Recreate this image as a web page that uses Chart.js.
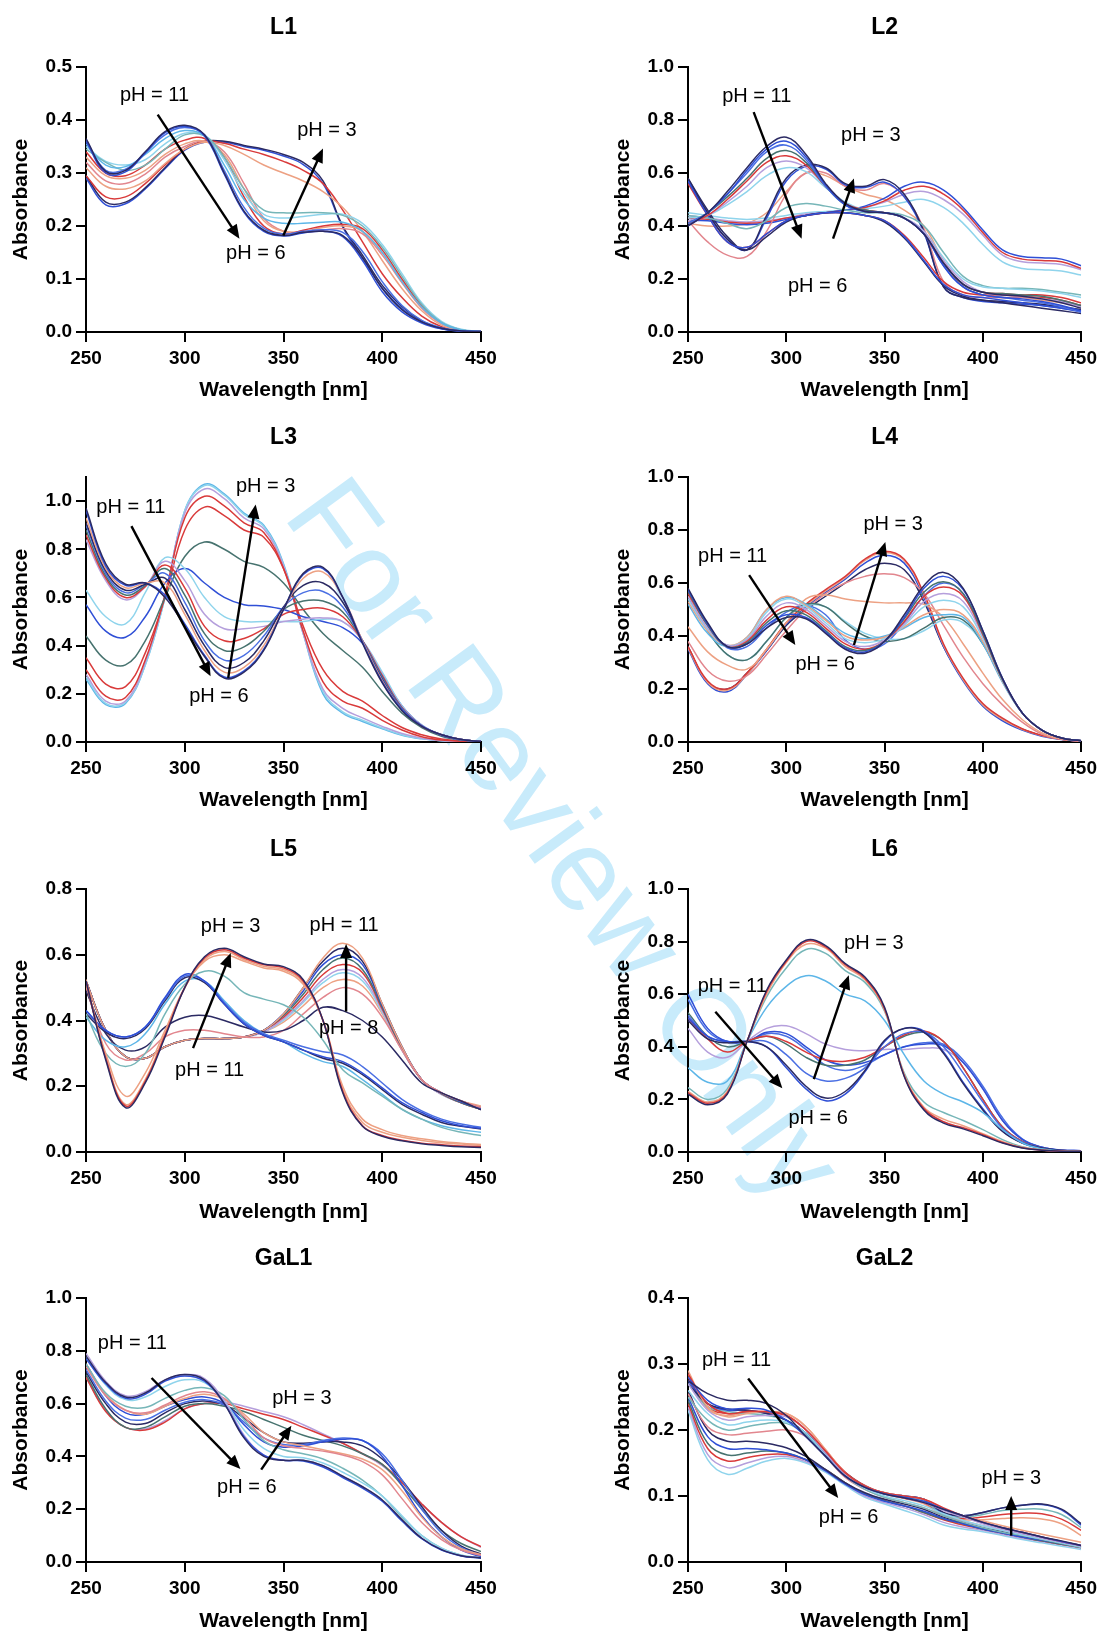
<!DOCTYPE html>
<html>
<head>
<meta charset="utf-8">
<title>UV-Vis spectra at different pH</title>
<script src="https://cdn.jsdelivr.net/npm/chart.js@4.4.1/dist/chart.umd.min.js"></script>
<style>
  html, body { margin: 0; padding: 0; background: #fff; }
  body { position: relative; width: 1102px; height: 1635px; overflow: hidden; }
  canvas { position: absolute; z-index: 1; }
  #watermark {
    position: absolute; left: 361px; top: 458px; z-index: 0;
    transform-origin: 0 0; transform: rotate(54deg);
    font: 116px/116px "Liberation Sans", Arial, sans-serif;
    color: #c8ebfb; white-space: nowrap;
  }
</style>
</head>
<body>
<div id="watermark">For Review Only</div>
<canvas id="c0" width="551" height="410" style="left:0;top:0"></canvas>
<canvas id="c1" width="500" height="410" style="left:602px;top:0"></canvas>
<canvas id="c2" width="551" height="410" style="left:0;top:410px"></canvas>
<canvas id="c3" width="500" height="410" style="left:602px;top:410px"></canvas>
<canvas id="c4" width="551" height="410" style="left:0;top:822px"></canvas>
<canvas id="c5" width="500" height="410" style="left:602px;top:822px"></canvas>
<canvas id="c6" width="551" height="410" style="left:0;top:1231px"></canvas>
<canvas id="c7" width="500" height="410" style="left:602px;top:1231px"></canvas>
<script>
// wavelength grid (nm) shared by every spectrum
const wavelengths = [250,260,270,280,290,300,310,320,330,340,350,360,370,380,390,400,410,420,430,440,450];
const xTicks = [250,300,350,400,450];

const NAVY = '#2b2a63', BLUE = '#2f4fd6', ROYAL = '#4a6fe3', LBLUE = '#5db6e8', CYAN = '#8fd4ec',
      TEAL = '#76b6b8', DTEAL = '#47736f', RED = '#d93a3a', SALMON = '#eda183', PINK = '#e2868e', LAV = '#b59fdc';

// ---- L1 ----
const L1 = [
  [0.365,0.303,0.305,0.340,0.378,0.390,0.372,0.300,0.228,0.192,0.182,0.188,0.190,0.182,0.140,0.082,0.042,0.019,0.007,0.002,0.001],
  [0.360,0.300,0.302,0.338,0.376,0.388,0.370,0.298,0.226,0.190,0.181,0.187,0.190,0.180,0.135,0.076,0.038,0.017,0.006,0.002,0.001],
  [0.362,0.305,0.307,0.338,0.372,0.386,0.372,0.305,0.235,0.196,0.185,0.190,0.193,0.188,0.152,0.095,0.050,0.022,0.008,0.002,0.001],
  [0.355,0.315,0.312,0.335,0.365,0.380,0.370,0.315,0.250,0.215,0.205,0.205,0.207,0.207,0.190,0.150,0.095,0.047,0.017,0.004,0.001],
  [0.345,0.320,0.305,0.315,0.345,0.372,0.370,0.330,0.270,0.230,0.225,0.225,0.225,0.220,0.200,0.160,0.105,0.052,0.018,0.004,0.001],
  [0.350,0.322,0.315,0.325,0.355,0.375,0.372,0.325,0.262,0.222,0.215,0.218,0.222,0.222,0.205,0.165,0.110,0.055,0.020,0.005,0.001],
  [0.340,0.300,0.295,0.315,0.345,0.362,0.365,0.330,0.255,0.200,0.185,0.192,0.200,0.203,0.195,0.155,0.100,0.050,0.018,0.004,0.001],
  [0.330,0.295,0.290,0.305,0.335,0.355,0.360,0.335,0.270,0.210,0.190,0.190,0.197,0.200,0.190,0.150,0.097,0.048,0.017,0.004,0.001],
  [0.320,0.285,0.280,0.298,0.330,0.350,0.360,0.340,0.280,0.215,0.190,0.188,0.192,0.195,0.185,0.145,0.093,0.045,0.016,0.004,0.001],
  [0.310,0.275,0.270,0.285,0.318,0.345,0.358,0.352,0.335,0.315,0.300,0.285,0.265,0.235,0.190,0.135,0.082,0.040,0.013,0.003,0.001],
  [0.295,0.255,0.255,0.280,0.315,0.345,0.360,0.356,0.345,0.335,0.322,0.305,0.280,0.230,0.170,0.110,0.065,0.030,0.010,0.002,0.001],
  [0.295,0.245,0.245,0.272,0.310,0.345,0.360,0.360,0.352,0.345,0.335,0.320,0.285,0.200,0.145,0.088,0.048,0.021,0.007,0.002,0.001],
  [0.290,0.240,0.242,0.270,0.308,0.343,0.358,0.358,0.350,0.343,0.332,0.316,0.280,0.198,0.140,0.083,0.044,0.019,0.006,0.002,0.001]
];
const L1_colors = [NAVY, BLUE, ROYAL, LBLUE, TEAL, CYAN, RED, SALMON, PINK, SALMON, RED, NAVY, BLUE];
const L1_yTicks = [0, 0.1, 0.2, 0.3, 0.4, 0.5];
const L1_labels = [['pH = 11', 284.7, 0.447], ['pH = 3', 372, 0.38], ['pH = 6', 336, 0.148]];
const L1_arrows = [[286.3, 0.41, 327.7, 0.176], [349.9, 0.182, 370, 0.346]];

// ---- L2 ----
const L2 = [
  [0.40,0.45,0.53,0.62,0.70,0.735,0.67,0.56,0.485,0.455,0.45,0.43,0.37,0.26,0.18,0.15,0.14,0.135,0.125,0.11,0.09],
  [0.40,0.45,0.52,0.61,0.69,0.72,0.66,0.555,0.48,0.455,0.45,0.43,0.37,0.25,0.17,0.14,0.13,0.125,0.115,0.10,0.08],
  [0.41,0.45,0.52,0.60,0.68,0.705,0.65,0.55,0.48,0.455,0.45,0.43,0.37,0.25,0.17,0.14,0.13,0.12,0.11,0.095,0.075],
  [0.41,0.45,0.51,0.58,0.655,0.685,0.64,0.55,0.48,0.46,0.45,0.43,0.37,0.26,0.18,0.15,0.145,0.14,0.135,0.12,0.10],
  [0.41,0.44,0.50,0.57,0.64,0.665,0.63,0.55,0.485,0.46,0.45,0.43,0.37,0.26,0.18,0.15,0.145,0.14,0.14,0.13,0.11],
  [0.42,0.44,0.49,0.55,0.62,0.645,0.62,0.55,0.485,0.46,0.45,0.43,0.38,0.27,0.19,0.15,0.14,0.135,0.125,0.115,0.095],
  [0.43,0.44,0.48,0.53,0.59,0.62,0.605,0.545,0.49,0.46,0.45,0.43,0.38,0.28,0.20,0.17,0.165,0.16,0.155,0.145,0.13],
  [0.44,0.43,0.41,0.39,0.42,0.47,0.485,0.475,0.46,0.45,0.45,0.44,0.40,0.30,0.21,0.175,0.165,0.165,0.16,0.15,0.14],
  [0.57,0.44,0.34,0.32,0.37,0.42,0.44,0.45,0.45,0.44,0.42,0.36,0.27,0.18,0.14,0.13,0.12,0.11,0.10,0.09,0.075],
  [0.58,0.45,0.35,0.31,0.36,0.415,0.44,0.45,0.45,0.44,0.415,0.355,0.265,0.175,0.135,0.12,0.11,0.10,0.09,0.08,0.07],
  [0.56,0.44,0.34,0.32,0.37,0.42,0.44,0.45,0.45,0.44,0.42,0.365,0.28,0.19,0.15,0.14,0.14,0.135,0.13,0.12,0.10],
  [0.58,0.46,0.36,0.31,0.44,0.58,0.63,0.62,0.56,0.55,0.575,0.52,0.38,0.17,0.13,0.12,0.115,0.11,0.105,0.095,0.085],
  [0.57,0.45,0.35,0.31,0.43,0.57,0.625,0.615,0.555,0.545,0.565,0.51,0.375,0.17,0.13,0.115,0.11,0.105,0.10,0.09,0.08],
  [0.42,0.34,0.29,0.285,0.38,0.52,0.60,0.60,0.55,0.535,0.56,0.51,0.39,0.19,0.14,0.13,0.13,0.13,0.125,0.115,0.10],
  [0.42,0.42,0.41,0.405,0.41,0.425,0.44,0.45,0.46,0.475,0.505,0.55,0.565,0.535,0.47,0.385,0.31,0.285,0.28,0.275,0.25],
  [0.43,0.425,0.415,0.41,0.415,0.43,0.44,0.45,0.46,0.47,0.495,0.535,0.55,0.52,0.46,0.375,0.30,0.275,0.27,0.265,0.24],
  [0.44,0.43,0.42,0.415,0.42,0.43,0.445,0.45,0.46,0.47,0.49,0.52,0.53,0.50,0.445,0.365,0.29,0.265,0.26,0.255,0.235],
  [0.45,0.44,0.43,0.425,0.43,0.44,0.45,0.455,0.46,0.465,0.475,0.49,0.50,0.47,0.41,0.33,0.265,0.24,0.235,0.23,0.215],
  [0.41,0.40,0.40,0.41,0.45,0.53,0.60,0.59,0.55,0.52,0.50,0.46,0.40,0.27,0.17,0.14,0.13,0.13,0.12,0.11,0.10]
];
const L2_colors = [NAVY, BLUE, ROYAL, DTEAL, RED, LAV, CYAN, TEAL, BLUE, NAVY, RED, NAVY, BLUE, PINK, BLUE, RED, LAV, CYAN, SALMON];
const L2_yTicks = [0, 0.2, 0.4, 0.6, 0.8, 1.0];
const L2_labels = [['pH = 11', 285, 0.887], ['pH = 3', 343, 0.742], ['pH = 6', 316, 0.172]];
const L2_arrows = [[283.4, 0.83, 307.8, 0.352], [323.8, 0.352, 334.4, 0.579]];

// ---- L3 ----
const L3 = [
  [0.97,0.74,0.655,0.66,0.60,0.48,0.355,0.265,0.29,0.38,0.55,0.70,0.725,0.60,0.41,0.245,0.13,0.065,0.03,0.01,0.002],
  [0.96,0.73,0.65,0.66,0.61,0.49,0.36,0.27,0.295,0.385,0.55,0.695,0.72,0.60,0.415,0.25,0.135,0.067,0.03,0.01,0.002],
  [0.93,0.72,0.64,0.66,0.66,0.53,0.38,0.29,0.31,0.40,0.55,0.68,0.705,0.60,0.42,0.255,0.135,0.066,0.03,0.01,0.002],
  [0.91,0.71,0.63,0.655,0.68,0.55,0.40,0.31,0.33,0.42,0.56,0.65,0.66,0.58,0.42,0.26,0.135,0.066,0.03,0.01,0.002],
  [0.90,0.70,0.62,0.655,0.70,0.58,0.42,0.34,0.36,0.44,0.56,0.62,0.625,0.56,0.42,0.265,0.138,0.066,0.03,0.01,0.002],
  [0.88,0.69,0.61,0.65,0.72,0.61,0.45,0.38,0.395,0.46,0.55,0.585,0.585,0.54,0.42,0.27,0.14,0.066,0.03,0.01,0.002],
  [0.86,0.68,0.60,0.645,0.735,0.64,0.48,0.42,0.43,0.47,0.53,0.55,0.555,0.52,0.42,0.275,0.142,0.067,0.03,0.01,0.002],
  [0.84,0.67,0.59,0.645,0.75,0.67,0.53,0.47,0.47,0.48,0.50,0.51,0.515,0.50,0.42,0.28,0.145,0.068,0.03,0.01,0.002],
  [0.63,0.52,0.49,0.62,0.765,0.72,0.60,0.52,0.50,0.50,0.50,0.50,0.51,0.50,0.42,0.29,0.15,0.07,0.03,0.01,0.002],
  [0.57,0.46,0.435,0.52,0.66,0.72,0.66,0.60,0.57,0.565,0.55,0.52,0.50,0.475,0.41,0.28,0.15,0.07,0.028,0.009,0.002],
  [0.44,0.34,0.32,0.42,0.60,0.77,0.83,0.80,0.75,0.725,0.66,0.55,0.45,0.38,0.31,0.21,0.12,0.06,0.024,0.008,0.002],
  [0.35,0.24,0.23,0.37,0.60,0.88,0.975,0.94,0.88,0.85,0.72,0.48,0.30,0.21,0.17,0.11,0.06,0.03,0.012,0.004,0.001],
  [0.30,0.19,0.185,0.34,0.61,0.93,1.02,0.98,0.91,0.87,0.72,0.46,0.25,0.17,0.14,0.09,0.05,0.022,0.008,0.003,0.001],
  [0.28,0.17,0.17,0.33,0.61,0.95,1.05,1.01,0.93,0.885,0.73,0.45,0.22,0.14,0.10,0.065,0.035,0.016,0.006,0.002,0.001],
  [0.27,0.16,0.165,0.32,0.60,0.96,1.065,1.025,0.945,0.895,0.735,0.45,0.21,0.125,0.09,0.058,0.03,0.014,0.005,0.002,0.001],
  [0.26,0.155,0.16,0.32,0.60,0.96,1.07,1.03,0.95,0.90,0.74,0.45,0.20,0.12,0.085,0.055,0.028,0.013,0.005,0.002,0.001]
];
const L3_colors = [NAVY, BLUE, SALMON, NAVY, ROYAL, DTEAL, RED, LAV, CYAN, BLUE, DTEAL, RED, RED, LAV, CYAN, LBLUE];
const L3_yTicks = [0, 0.2, 0.4, 0.6, 0.8, 1.0];
const L3_labels = [['pH = 11', 272.7, 0.972], ['pH = 3', 341, 1.06], ['pH = 6', 317.3, 0.19]];
const L3_arrows = [[273, 0.896, 313.1, 0.273], [322, 0.266, 335.9, 0.986]];

// ---- L4 ----
const L4 = [
  [0.58,0.45,0.36,0.37,0.43,0.47,0.465,0.41,0.35,0.335,0.38,0.48,0.59,0.64,0.58,0.42,0.24,0.11,0.045,0.015,0.005],
  [0.575,0.445,0.36,0.37,0.44,0.48,0.47,0.415,0.355,0.34,0.38,0.47,0.58,0.625,0.575,0.42,0.24,0.11,0.045,0.015,0.005],
  [0.57,0.44,0.36,0.375,0.45,0.495,0.48,0.42,0.36,0.345,0.38,0.465,0.565,0.605,0.56,0.41,0.235,0.11,0.045,0.015,0.005],
  [0.56,0.44,0.36,0.38,0.46,0.51,0.49,0.43,0.37,0.35,0.38,0.455,0.55,0.585,0.55,0.405,0.235,0.11,0.045,0.015,0.005],
  [0.55,0.43,0.365,0.385,0.475,0.525,0.50,0.44,0.38,0.36,0.385,0.445,0.53,0.56,0.53,0.40,0.235,0.11,0.045,0.015,0.005],
  [0.54,0.425,0.365,0.39,0.49,0.54,0.51,0.45,0.39,0.375,0.39,0.44,0.51,0.535,0.51,0.39,0.232,0.11,0.045,0.015,0.005],
  [0.53,0.42,0.365,0.395,0.50,0.55,0.515,0.46,0.40,0.385,0.395,0.435,0.48,0.50,0.48,0.38,0.23,0.11,0.045,0.015,0.005],
  [0.52,0.41,0.36,0.395,0.50,0.545,0.52,0.465,0.41,0.39,0.40,0.43,0.47,0.48,0.47,0.37,0.225,0.11,0.045,0.015,0.005],
  [0.55,0.42,0.33,0.31,0.38,0.47,0.52,0.51,0.45,0.40,0.38,0.39,0.43,0.47,0.46,0.37,0.23,0.11,0.045,0.015,0.005],
  [0.55,0.42,0.33,0.31,0.38,0.47,0.515,0.51,0.455,0.41,0.39,0.39,0.42,0.46,0.45,0.37,0.23,0.11,0.045,0.015,0.005],
  [0.57,0.44,0.355,0.36,0.43,0.49,0.515,0.48,0.385,0.35,0.37,0.45,0.55,0.60,0.56,0.41,0.235,0.11,0.045,0.015,0.005],
  [0.435,0.34,0.29,0.275,0.35,0.45,0.54,0.555,0.54,0.53,0.525,0.525,0.52,0.47,0.37,0.26,0.16,0.085,0.035,0.012,0.004],
  [0.38,0.27,0.23,0.25,0.33,0.42,0.50,0.56,0.60,0.625,0.635,0.62,0.56,0.44,0.32,0.22,0.14,0.075,0.03,0.01,0.003],
  [0.36,0.23,0.20,0.26,0.35,0.45,0.52,0.575,0.625,0.69,0.72,0.69,0.56,0.37,0.24,0.145,0.09,0.05,0.025,0.01,0.003],
  [0.355,0.225,0.195,0.255,0.35,0.45,0.515,0.57,0.62,0.685,0.715,0.685,0.555,0.365,0.235,0.14,0.085,0.048,0.024,0.01,0.003],
  [0.35,0.22,0.19,0.255,0.345,0.445,0.51,0.565,0.615,0.675,0.705,0.675,0.545,0.36,0.23,0.135,0.08,0.045,0.022,0.009,0.003],
  [0.36,0.225,0.20,0.26,0.345,0.44,0.50,0.55,0.60,0.65,0.675,0.65,0.53,0.36,0.235,0.14,0.085,0.048,0.024,0.01,0.003]
];
const L4_colors = [NAVY, BLUE, DTEAL, RED, LAV, CYAN, SALMON, LBLUE, DTEAL, CYAN, ROYAL, SALMON, PINK, RED, SALMON, BLUE, NAVY];
const L4_yTicks = [0, 0.2, 0.4, 0.6, 0.8, 1.0];
const L4_labels = [['pH = 11', 272.7, 0.699], ['pH = 3', 354.4, 0.82], ['pH = 6', 319.8, 0.294]];
const L4_arrows = [[281.1, 0.63, 304.6, 0.366], [334.4, 0.366, 350.4, 0.755]];

// ---- L5 ----
const L5 = [
  [0.52,0.28,0.135,0.21,0.35,0.50,0.594,0.62,0.594,0.572,0.564,0.524,0.40,0.18,0.078,0.048,0.034,0.025,0.02,0.016,0.014],
  [0.52,0.285,0.14,0.215,0.355,0.50,0.59,0.615,0.59,0.57,0.56,0.52,0.40,0.185,0.08,0.05,0.036,0.027,0.022,0.018,0.016],
  [0.525,0.29,0.145,0.22,0.36,0.50,0.585,0.61,0.585,0.565,0.555,0.515,0.40,0.19,0.09,0.06,0.045,0.035,0.028,0.024,0.02],
  [0.51,0.30,0.17,0.24,0.37,0.50,0.58,0.60,0.58,0.56,0.55,0.51,0.40,0.20,0.10,0.068,0.05,0.04,0.032,0.027,0.023],
  [0.42,0.30,0.26,0.30,0.42,0.51,0.55,0.535,0.485,0.465,0.448,0.41,0.34,0.25,0.21,0.17,0.13,0.10,0.075,0.06,0.05],
  [0.43,0.37,0.35,0.38,0.47,0.54,0.52,0.45,0.39,0.355,0.335,0.31,0.29,0.275,0.24,0.195,0.15,0.12,0.095,0.08,0.072],
  [0.43,0.37,0.35,0.38,0.465,0.535,0.52,0.455,0.395,0.36,0.34,0.32,0.305,0.295,0.26,0.21,0.16,0.125,0.10,0.085,0.075],
  [0.42,0.365,0.345,0.375,0.46,0.53,0.515,0.45,0.39,0.355,0.335,0.31,0.285,0.27,0.235,0.19,0.145,0.115,0.09,0.078,0.07],
  [0.41,0.34,0.32,0.36,0.45,0.52,0.52,0.46,0.40,0.36,0.335,0.30,0.275,0.26,0.22,0.175,0.13,0.10,0.08,0.068,0.06],
  [0.49,0.36,0.31,0.32,0.38,0.41,0.415,0.40,0.38,0.365,0.37,0.40,0.44,0.43,0.40,0.35,0.28,0.21,0.18,0.155,0.128],
  [0.50,0.33,0.28,0.30,0.35,0.37,0.37,0.36,0.35,0.35,0.37,0.42,0.47,0.50,0.48,0.41,0.31,0.22,0.18,0.155,0.135],
  [0.52,0.37,0.29,0.285,0.32,0.34,0.345,0.345,0.35,0.37,0.42,0.50,0.59,0.635,0.59,0.45,0.32,0.22,0.18,0.155,0.14],
  [0.52,0.37,0.29,0.285,0.32,0.34,0.345,0.345,0.35,0.37,0.42,0.50,0.58,0.62,0.58,0.45,0.32,0.22,0.18,0.155,0.135],
  [0.52,0.37,0.29,0.285,0.32,0.34,0.345,0.345,0.35,0.37,0.42,0.49,0.57,0.60,0.57,0.445,0.32,0.22,0.18,0.152,0.132],
  [0.52,0.37,0.29,0.285,0.32,0.34,0.345,0.345,0.35,0.37,0.415,0.48,0.555,0.59,0.555,0.44,0.315,0.22,0.178,0.15,0.13],
  [0.52,0.37,0.29,0.285,0.32,0.34,0.345,0.345,0.35,0.37,0.41,0.47,0.54,0.57,0.545,0.435,0.315,0.22,0.178,0.15,0.13],
  [0.52,0.37,0.29,0.285,0.32,0.34,0.345,0.345,0.35,0.365,0.405,0.46,0.525,0.555,0.53,0.43,0.31,0.22,0.175,0.15,0.13],
  [0.52,0.37,0.29,0.285,0.32,0.34,0.345,0.345,0.35,0.365,0.40,0.455,0.515,0.545,0.52,0.425,0.31,0.22,0.175,0.15,0.13],
  [0.52,0.37,0.29,0.285,0.32,0.34,0.345,0.345,0.35,0.365,0.395,0.445,0.50,0.525,0.505,0.42,0.31,0.22,0.175,0.15,0.13]
];
const L5_colors = [NAVY, RED, SALMON, SALMON, TEAL, BLUE, ROYAL, NAVY, LBLUE, NAVY, PINK, SALMON, NAVY, BLUE, DTEAL, RED, LAV, CYAN, SALMON];
const L5_yTicks = [0, 0.2, 0.4, 0.6, 0.8];
const L5_labels = [['pH = 3', 323.2, 0.686], ['pH = 11', 312.6, 0.248], ['pH = 11', 380.7, 0.688], ['pH = 8', 383, 0.375]];
const L5_arrows = [[304.2, 0.316, 323.3, 0.605], [381.7, 0.427, 381.7, 0.633]];

// ---- L6 ----
const L6 = [
  [0.22,0.18,0.22,0.42,0.615,0.73,0.805,0.785,0.716,0.665,0.55,0.287,0.16,0.11,0.088,0.062,0.034,0.015,0.007,0.003,0.002],
  [0.225,0.185,0.225,0.42,0.61,0.725,0.80,0.78,0.712,0.66,0.545,0.29,0.165,0.115,0.092,0.066,0.036,0.016,0.007,0.003,0.002],
  [0.23,0.19,0.23,0.42,0.60,0.72,0.79,0.775,0.705,0.655,0.54,0.295,0.17,0.125,0.10,0.07,0.04,0.018,0.008,0.003,0.002],
  [0.245,0.20,0.24,0.42,0.59,0.70,0.77,0.755,0.69,0.645,0.535,0.30,0.19,0.15,0.12,0.085,0.047,0.02,0.008,0.003,0.002],
  [0.32,0.265,0.27,0.42,0.55,0.63,0.67,0.65,0.60,0.575,0.50,0.37,0.27,0.22,0.19,0.15,0.085,0.035,0.012,0.004,0.002],
  [0.50,0.43,0.415,0.42,0.40,0.33,0.25,0.205,0.23,0.31,0.425,0.47,0.455,0.375,0.26,0.16,0.078,0.034,0.015,0.006,0.004],
  [0.51,0.44,0.42,0.42,0.40,0.32,0.24,0.195,0.22,0.305,0.42,0.47,0.46,0.38,0.265,0.165,0.08,0.035,0.015,0.006,0.004],
  [0.52,0.44,0.42,0.42,0.42,0.37,0.30,0.27,0.28,0.32,0.40,0.45,0.455,0.40,0.30,0.19,0.09,0.038,0.015,0.006,0.004],
  [0.51,0.43,0.38,0.42,0.44,0.42,0.38,0.35,0.345,0.36,0.40,0.445,0.46,0.42,0.32,0.20,0.095,0.04,0.015,0.006,0.004],
  [0.53,0.44,0.40,0.42,0.44,0.41,0.36,0.33,0.33,0.35,0.40,0.44,0.455,0.42,0.32,0.20,0.095,0.04,0.015,0.006,0.004],
  [0.60,0.47,0.42,0.42,0.455,0.45,0.40,0.35,0.33,0.34,0.37,0.40,0.41,0.405,0.34,0.24,0.12,0.048,0.018,0.007,0.005],
  [0.58,0.46,0.42,0.42,0.45,0.44,0.39,0.33,0.31,0.33,0.37,0.40,0.415,0.41,0.35,0.25,0.13,0.05,0.018,0.007,0.005],
  [0.47,0.38,0.36,0.42,0.47,0.48,0.45,0.41,0.39,0.385,0.39,0.39,0.395,0.39,0.34,0.24,0.12,0.048,0.018,0.007,0.005]
];
const L6_colors = [NAVY, RED, SALMON, TEAL, LBLUE, NAVY, BLUE, ROYAL, RED, DTEAL, BLUE, ROYAL, LAV];
const L6_yTicks = [0, 0.2, 0.4, 0.6, 0.8, 1.0];
const L6_labels = [['pH = 11', 272.5, 0.631], ['pH = 3', 344.5, 0.794], ['pH = 6', 316.2, 0.126]];
const L6_arrows = [[263.9, 0.533, 298, 0.242], [314, 0.277, 331.8, 0.672]];

// ---- GaL1 ----
const GaL1 = [
  [0.78,0.68,0.625,0.64,0.69,0.71,0.69,0.60,0.47,0.40,0.385,0.385,0.365,0.325,0.285,0.235,0.16,0.09,0.047,0.024,0.015],
  [0.77,0.675,0.62,0.635,0.685,0.705,0.685,0.60,0.475,0.405,0.385,0.383,0.36,0.32,0.28,0.23,0.155,0.088,0.045,0.023,0.014],
  [0.79,0.685,0.63,0.645,0.69,0.71,0.695,0.61,0.48,0.405,0.385,0.385,0.365,0.325,0.285,0.235,0.16,0.09,0.047,0.024,0.015],
  [0.78,0.67,0.615,0.625,0.665,0.69,0.68,0.61,0.50,0.43,0.40,0.395,0.375,0.34,0.30,0.25,0.175,0.10,0.052,0.026,0.016],
  [0.75,0.64,0.59,0.585,0.62,0.65,0.66,0.63,0.54,0.46,0.425,0.41,0.39,0.355,0.31,0.25,0.17,0.10,0.052,0.026,0.016],
  [0.74,0.63,0.575,0.565,0.595,0.63,0.645,0.62,0.55,0.47,0.44,0.43,0.42,0.405,0.38,0.33,0.24,0.15,0.085,0.045,0.025],
  [0.75,0.635,0.575,0.56,0.59,0.62,0.635,0.615,0.56,0.49,0.455,0.44,0.425,0.41,0.39,0.35,0.27,0.17,0.095,0.05,0.028],
  [0.75,0.63,0.565,0.56,0.59,0.615,0.625,0.60,0.52,0.455,0.435,0.44,0.455,0.465,0.46,0.40,0.29,0.175,0.095,0.045,0.02],
  [0.73,0.61,0.545,0.54,0.575,0.605,0.615,0.595,0.53,0.47,0.445,0.445,0.46,0.47,0.46,0.41,0.31,0.20,0.11,0.055,0.025],
  [0.72,0.60,0.53,0.525,0.565,0.60,0.61,0.595,0.545,0.49,0.455,0.45,0.455,0.455,0.44,0.39,0.31,0.21,0.12,0.06,0.03],
  [0.71,0.58,0.51,0.51,0.55,0.59,0.60,0.59,0.57,0.54,0.51,0.48,0.46,0.44,0.41,0.37,0.29,0.20,0.12,0.07,0.04],
  [0.70,0.57,0.51,0.50,0.53,0.58,0.60,0.60,0.58,0.56,0.54,0.51,0.48,0.45,0.41,0.37,0.30,0.22,0.15,0.095,0.058],
  [0.70,0.575,0.51,0.505,0.535,0.58,0.60,0.605,0.59,0.57,0.55,0.52,0.485,0.45,0.41,0.365,0.30,0.22,0.15,0.095,0.056]
];
const GaL1_colors = [NAVY, BLUE, LAV, CYAN, TEAL, PINK, SALMON, BLUE, ROYAL, NAVY, DTEAL, RED, LAV];
const GaL1_yTicks = [0, 0.2, 0.4, 0.6, 0.8, 1.0];
const GaL1_labels = [['pH = 11', 273.5, 0.826], ['pH = 3', 359.3, 0.621], ['pH = 6', 331.4, 0.283]];
const GaL1_arrows = [[283.2, 0.697, 328.2, 0.352], [338.7, 0.35, 354, 0.516]];

// ---- GaL2 ----
const GaL2 = [
  [0.275,0.255,0.245,0.245,0.24,0.222,0.19,0.16,0.13,0.113,0.103,0.097,0.09,0.08,0.07,0.06,0.052,0.045,0.038,0.032,0.025],
  [0.28,0.245,0.232,0.233,0.23,0.215,0.19,0.16,0.13,0.113,0.103,0.098,0.092,0.08,0.07,0.06,0.052,0.045,0.038,0.031,0.025],
  [0.285,0.24,0.225,0.228,0.228,0.222,0.20,0.168,0.135,0.115,0.105,0.10,0.095,0.082,0.07,0.06,0.052,0.045,0.038,0.031,0.025],
  [0.29,0.235,0.22,0.225,0.228,0.225,0.205,0.17,0.135,0.115,0.105,0.10,0.095,0.08,0.07,0.062,0.055,0.048,0.042,0.036,0.03],
  [0.27,0.23,0.215,0.22,0.222,0.22,0.20,0.165,0.133,0.113,0.103,0.097,0.09,0.078,0.068,0.058,0.05,0.043,0.036,0.03,0.024],
  [0.26,0.225,0.208,0.212,0.215,0.212,0.195,0.162,0.13,0.112,0.10,0.093,0.085,0.073,0.063,0.055,0.048,0.041,0.035,0.029,0.023],
  [0.25,0.215,0.20,0.205,0.21,0.21,0.192,0.16,0.13,0.11,0.098,0.09,0.082,0.07,0.06,0.052,0.045,0.04,0.034,0.028,0.022],
  [0.255,0.205,0.193,0.195,0.198,0.20,0.19,0.16,0.128,0.11,0.098,0.09,0.082,0.07,0.062,0.055,0.048,0.042,0.036,0.03,0.024],
  [0.26,0.20,0.183,0.183,0.18,0.173,0.16,0.14,0.12,0.105,0.095,0.088,0.08,0.068,0.06,0.052,0.046,0.04,0.034,0.028,0.023],
  [0.25,0.19,0.172,0.172,0.17,0.165,0.155,0.138,0.118,0.102,0.092,0.085,0.077,0.066,0.058,0.05,0.044,0.038,0.033,0.028,0.023],
  [0.245,0.18,0.162,0.165,0.168,0.165,0.155,0.14,0.12,0.103,0.093,0.085,0.075,0.065,0.058,0.05,0.044,0.038,0.032,0.027,0.022],
  [0.24,0.172,0.153,0.158,0.163,0.163,0.155,0.14,0.12,0.103,0.093,0.085,0.075,0.064,0.056,0.05,0.044,0.038,0.032,0.027,0.022],
  [0.235,0.163,0.143,0.15,0.158,0.16,0.152,0.138,0.118,0.10,0.09,0.082,0.072,0.06,0.053,0.048,0.042,0.036,0.031,0.026,0.021],
  [0.23,0.155,0.133,0.142,0.153,0.157,0.15,0.136,0.116,0.098,0.088,0.078,0.068,0.056,0.05,0.046,0.04,0.034,0.029,0.024,0.019],
  [0.27,0.24,0.232,0.23,0.225,0.215,0.195,0.165,0.135,0.115,0.105,0.10,0.095,0.075,0.07,0.075,0.082,0.086,0.088,0.08,0.058],
  [0.275,0.24,0.23,0.23,0.225,0.215,0.195,0.163,0.133,0.113,0.104,0.10,0.095,0.074,0.07,0.075,0.082,0.086,0.087,0.079,0.056],
  [0.27,0.235,0.228,0.225,0.222,0.215,0.195,0.165,0.135,0.115,0.104,0.098,0.092,0.072,0.068,0.072,0.078,0.08,0.08,0.072,0.052],
  [0.28,0.235,0.225,0.228,0.226,0.222,0.20,0.168,0.136,0.116,0.104,0.097,0.09,0.072,0.066,0.068,0.072,0.074,0.073,0.065,0.048],
  [0.285,0.232,0.222,0.226,0.227,0.225,0.205,0.17,0.136,0.115,0.103,0.096,0.088,0.07,0.064,0.064,0.066,0.067,0.065,0.058,0.04]
];
const GaL2_colors = [NAVY, BLUE, RED, SALMON, LAV, CYAN, TEAL, PINK, NAVY, BLUE, DTEAL, RED, LAV, CYAN, NAVY, BLUE, TEAL, RED, SALMON];
const GaL2_yTicks = [0, 0.1, 0.2, 0.3, 0.4];
const GaL2_labels = [['pH = 11', 274.7, 0.305], ['pH = 3', 414.5, 0.126], ['pH = 6', 331.7, 0.068]];
const GaL2_arrows = [[280.6, 0.278, 326.4, 0.097], [414.4, 0.04, 414.4, 0.1]];

const FONT = '"Liberation Sans", Arial, Helvetica, sans-serif';
Chart.defaults.font.family = FONT;
Chart.defaults.color = '#000';

// draws the pH labels and arrows, in data coordinates
function notes(labels, arrows) {
  return {
    id: 'notes',
    afterDatasetsDraw(chart) {
      const ctx = chart.ctx, x = chart.scales.x, y = chart.scales.y;
      ctx.save();
      ctx.fillStyle = '#000';
      ctx.strokeStyle = '#000';
      ctx.lineWidth = 2.4;
      arrows.forEach(a => {
        const x0 = x.getPixelForValue(a[0]), y0 = y.getPixelForValue(a[1]);
        const x1 = x.getPixelForValue(a[2]), y1 = y.getPixelForValue(a[3]);
        const ang = Math.atan2(y1 - y0, x1 - x0), c = Math.cos(ang), s = Math.sin(ang);
        const head = 14, half = 6;
        ctx.beginPath();
        ctx.moveTo(x0, y0);
        ctx.lineTo(x1 - c * head * 0.8, y1 - s * head * 0.8);
        ctx.stroke();
        ctx.beginPath();
        ctx.moveTo(x1, y1);
        ctx.lineTo(x1 - c * head + s * half, y1 - s * head - c * half);
        ctx.lineTo(x1 - c * head - s * half, y1 - s * head + c * half);
        ctx.closePath();
        ctx.fill();
      });
      ctx.font = '20px ' + FONT;
      ctx.textAlign = 'center';
      ctx.textBaseline = 'middle';
      labels.forEach(l => ctx.fillText(l[0], x.getPixelForValue(l[1]), y.getPixelForValue(l[2])));
      ctx.restore();
    }
  };
}

function spectra(canvasId, name, curves, colors, yMax, yTicks, labels, arrows, rightPad, xHeight) {
  const axisLine = { drawOnChartArea: false, tickLength: 10, lineWidth: 2, color: '#000' };
  return new Chart(document.getElementById(canvasId), {
    type: 'line',
    data: {
      datasets: curves.map((c, i) => ({
        data: c.map((v, k) => ({ x: wavelengths[k], y: v })),
        borderColor: colors[i],
        borderWidth: 1.5,
        pointRadius: 0,
        tension: 0.4,
        fill: false
      }))
    },
    options: {
      responsive: false,
      animation: false,
      devicePixelRatio: 1,
      events: [],
      layout: { padding: { left: 0, right: rightPad, top: 0, bottom: 0 } },
      plugins: {
        legend: { display: false },
        tooltip: { enabled: false },
        title: {
          display: true, text: name, color: '#000', fullSize: false,
          font: { size: 23, weight: 'bold' }, padding: { top: 14.2, bottom: 25.2 }
        }
      },
      scales: {
        x: {
          type: 'linear', min: 250, max: 450,
          afterBuildTicks: s => { s.ticks = xTicks.map(v => ({ value: v })); },
          afterFit: s => { s.height = xHeight; },
          ticks: { padding: 5, font: { size: 19, weight: 'bold' }, color: '#000' },
          grid: axisLine,
          border: { color: '#000', width: 2 },
          title: { display: true, text: 'Wavelength [nm]', color: '#000', font: { size: 21, weight: 'bold' }, padding: { top: 0, bottom: 7.4 } }
        },
        y: {
          type: 'linear', min: 0, max: yMax,
          afterBuildTicks: s => { s.ticks = yTicks.map(v => ({ value: v })); },
          afterFit: s => { s.width = 86; },
          ticks: { padding: 4, font: { size: 19, weight: 'bold' }, color: '#000', callback: v => v.toFixed(1) },
          grid: axisLine,
          border: { color: '#000', width: 2 },
          title: { display: true, text: 'Absorbance', color: '#000', font: { size: 21, weight: 'bold' }, padding: { top: 8.4, bottom: 0 } }
        }
      }
    },
    plugins: [notes(labels, arrows)]
  });
}

spectra('c0', 'L1', L1, L1_colors, 0.5, L1_yTicks, L1_labels, L1_arrows, 70, 78);
spectra('c1', 'L2', L2, L2_colors, 1.0, L2_yTicks, L2_labels, L2_arrows, 19, 78);
spectra('c2', 'L3', L3, L3_colors, 1.1, L3_yTicks, L3_labels, L3_arrows, 70, 78);
spectra('c3', 'L4', L4, L4_colors, 1.0, L4_yTicks, L4_labels, L4_arrows, 19, 78);
spectra('c4', 'L5', L5, L5_colors, 0.8, L5_yTicks, L5_labels, L5_arrows, 70, 80);
spectra('c5', 'L6', L6, L6_colors, 1.0, L6_yTicks, L6_labels, L6_arrows, 19, 80);
spectra('c6', 'GaL1', GaL1, GaL1_colors, 1.0, GaL1_yTicks, GaL1_labels, GaL1_arrows, 70, 79);
spectra('c7', 'GaL2', GaL2, GaL2_colors, 0.4, GaL2_yTicks, GaL2_labels, GaL2_arrows, 19, 79);
</script>
</body>
</html>
